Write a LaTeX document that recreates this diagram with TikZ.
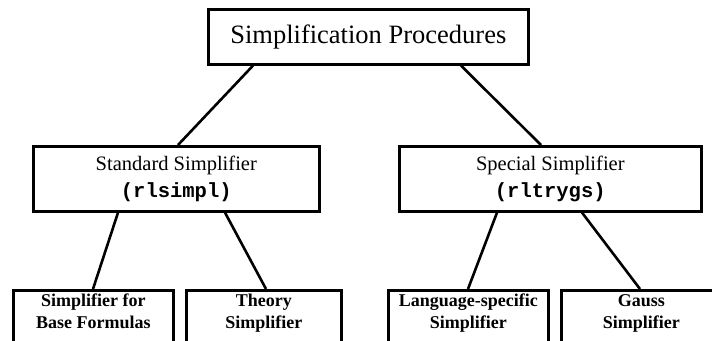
\documentclass[tikz,border=0pt]{standalone}
\usepackage{fontspec}
\setmainfont{Liberation Serif}
\setmonofont{Liberation Mono}
\begin{document}
\begin{tikzpicture}[x=1pt,y=-1pt,
  box/.style={draw, line width=2.6pt, inner sep=0pt, anchor=north west},
  conn/.style={line width=2.6pt},
  btext/.style={font=\fontsize{18}{22}\selectfont\bfseries, align=center, anchor=base, inner sep=0pt}]
\useasboundingbox (0,0) rectangle (712,340);
\clip (0,0) rectangle (712,340);
\node[box, minimum width=320pt, minimum height=55pt, font=\fontsize{26.5}{30}\selectfont] (top) at (207,8) {Simplification Procedures};
\node[box, minimum width=286pt, minimum height=65pt, align=center, font=\fontsize{20.5}{27}\selectfont] (std) at (32,145) {Standard Simplifier\\\ttfamily\bfseries (rlsimpl)};
\node[box, minimum width=302pt, minimum height=65pt, align=center, font=\fontsize{20.5}{27}\selectfont] (spc) at (398,145) {Special Simplifier\\\ttfamily\bfseries (rltrygs)};
\node[box, minimum width=160pt, minimum height=70pt] (b1) at (12,289) {};
\node[box, minimum width=155pt, minimum height=70pt] (b2) at (185,289) {};
\node[box, minimum width=160pt, minimum height=70pt] (b3) at (387,289) {};
\node[box, minimum width=160pt, minimum height=70pt] (b4) at (560,289) {};
\node[btext] (t1) at ([yshift=-39pt]b1.north) {Simplifier for\\Base Formulas};
\node[btext] (t2) at ([yshift=-39pt]b2.north) {Theory\\Simplifier};
\node[btext] (t3) at ([yshift=-39pt]b3.north) {Language-specific\\Simplifier};
\node[btext] (t4) at ([yshift=-39pt]b4.north) {Gauss\\Simplifier};
\draw[conn] (top.south -| 253,0) -- (std.north -| 178,0);
\draw[conn] (top.south -| 461,0) -- (spc.north -| 541,0);
\draw[conn] (std.south -| 118,0) -- (b1.north -| 93,0);
\draw[conn] (std.south -| 225,0) -- (b2.north -| 266,0);
\draw[conn] (spc.south -| 497,0) -- (b3.north -| 468,0);
\draw[conn] (spc.south -| 582,0) -- (b4.north -| 640,0);
\end{tikzpicture}
\end{document}
